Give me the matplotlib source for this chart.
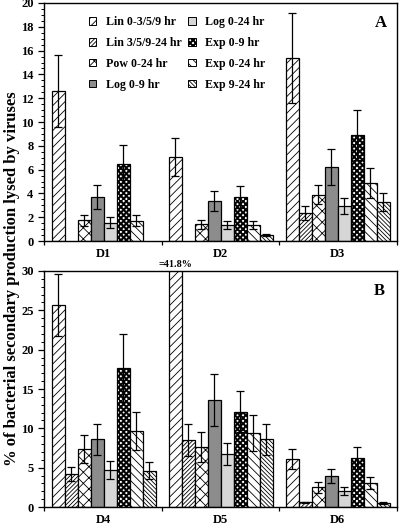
import numpy as np
import matplotlib
matplotlib.use("Agg")
import matplotlib.pyplot as plt
from matplotlib import hatch as mhatch
from matplotlib.path import Path
from matplotlib.patches import Patch

# ---------------- data ----------------
series = ["Lin 0-3/5/9 hr", "Lin 3/5/9-24 hr", "Pow 0-24 hr", "Log 0-9 hr",
          "Log 0-24 hr", "Exp 0-9 hr", "Exp 0-24 hr", "Exp 9-24 hr"]
groups_a = ["D1", "D2", "D3"]
groups_b = ["D4", "D5", "D6"]
nan = np.nan
# values[group][series]
vals_a = [
    [12.6, nan, 1.75, 3.7, 1.55, 6.45, 1.7, nan],
    [7.05, nan, 1.4, 3.35, 1.35, 3.7, 1.35, 0.5],
    [15.4, 2.35, 3.87, 6.2, 2.95, 8.9, 4.87, 3.28],
]
errs_a = [
    [3.0, nan, 0.45, 1.0, 0.45, 1.6, 0.45, nan],
    [1.6, nan, 0.35, 0.85, 0.35, 0.95, 0.35, 0.08],
    [3.8, 0.6, 0.8, 1.5, 0.65, 2.1, 1.25, 0.75],
]
vals_b = [
    [25.7, 4.2, 7.35, 8.6, 4.7, 17.7, 9.7, 4.6],
    [41.8, 8.5, 7.6, 13.6, 6.7, 12.1, 9.4, 8.6],
    [6.1, 0.6, 2.5, 3.9, 2.0, 6.2, 3.05, 0.5],
]
errs_b = [
    [3.9, 0.9, 1.75, 2.0, 1.1, 4.3, 2.4, 1.1],
    [nan, 2.0, 1.9, 3.3, 1.4, 2.6, 2.3, 2.0],
    [1.3, 0.1, 0.7, 0.9, 0.5, 1.4, 0.75, 0.1],
]
d5_note = "=41.8%"
ylabel = "% of bacterial secondary production lysed by viruses"

# ---------------- custom checkerboard hatch ----------------
class CheckerHatch(mhatch.HatchPatternBase):
    def __init__(self, hatch, density):
        n = int(hatch.count('c') * density * 2)
        if n % 2:
            n += 1
        self.n = n
        self.num_vertices = 5 * (n * n // 2) if n > 0 else 0

    def set_vertices_and_codes(self, vertices, codes):
        n = self.n
        k = 0
        s = 1.0 / n
        for i in range(n):
            for j in range(n):
                if (i + j) % 2 == 0:
                    x0, y0 = j * s, i * s
                    vertices[k:k + 5] = [(x0, y0), (x0 + s, y0), (x0 + s, y0 + s),
                                         (x0, y0 + s), (x0, y0)]
                    codes[k:k + 5] = [Path.MOVETO, Path.LINETO, Path.LINETO,
                                      Path.LINETO, Path.CLOSEPOLY]
                    k += 5

mhatch._hatch_types.append(CheckerHatch)
try:
    mhatch._validate_hatch_pattern = lambda h: None
except Exception:
    pass

styles = [
    dict(facecolor="white", hatch="////"),
    dict(facecolor="white", hatch="////////"),
    dict(facecolor="white", hatch="xxx"),
    dict(facecolor="#8c8c8c", hatch=None),
    dict(facecolor="#d6d6d6", hatch=None),
    dict(facecolor="white", hatch="ccc"),
    dict(facecolor="white", hatch="\\\\\\\\"),
    dict(facecolor="white", hatch="\\\\\\\\\\\\\\\\"),
]

plt.rcParams["font.family"] = ["Liberation Serif", "DejaVu Serif"]
plt.rcParams["font.weight"] = "bold"
plt.rcParams["hatch.linewidth"] = 0.6
plt.rcParams["axes.linewidth"] = 1.0

fig = plt.figure(figsize=(4.0, 5.26), dpi=100)
axA = fig.add_axes([0.11, 0.5418, 0.8825, 0.4525])
axB = fig.add_axes([0.11, 0.0361, 0.8825, 0.4487])

group_starts = [0, 9, 18]


def draw_panel(ax, vals, errs, gnames, ymax, major, minor):
    for gi, (gv, ge) in enumerate(zip(vals, errs)):
        for si in range(len(series)):
            v = gv[si]
            if np.isnan(v):
                continue
            x = group_starts[gi] + si + 0.5
            st = styles[si]
            ax.bar(x, v, width=1.0, facecolor=st["facecolor"], edgecolor="black",
                   linewidth=0.9, hatch=st["hatch"], zorder=2)
            e = ge[si]
            if not np.isnan(e):
                ax.errorbar(x, v, yerr=e, fmt="none", ecolor="black",
                            elinewidth=0.9, capsize=3, capthick=0.9, zorder=3)
    ax.set_xlim(-0.6, 26.55)
    ax.set_ylim(0, ymax)
    ax.set_yticks(np.arange(0, ymax + 0.01, major))
    ax.set_yticks(np.arange(0, ymax + 0.01, minor), minor=True)
    ax.set_yticklabels([f"{int(t)}" for t in np.arange(0, ymax + 0.01, major)],
                       fontsize=9, fontweight="bold")
    ax.tick_params(axis="y", which="major", direction="out", length=4, width=0.9)
    ax.tick_params(axis="y", which="minor", direction="out", length=2, width=0.7)
    ax.set_xticks([-0.6, 8.5, 17.5, 26.55])
    ax.set_xticklabels([])
    ax.set_xticks([g + 4 for g in group_starts], minor=True)
    ax.set_xticklabels(gnames, minor=True, fontsize=9, fontweight="bold")
    ax.tick_params(axis="x", which="major", direction="out", length=3, width=0.9)
    ax.tick_params(axis="x", which="minor", length=0, pad=5)


draw_panel(axA, vals_a, errs_a, groups_a, 20, 2, 0.5)
draw_panel(axB, vals_b, errs_b, groups_b, 30, 5, 1)

axA.text(0.955, 0.915, "A", transform=axA.transAxes, fontsize=12,
         fontweight="bold", ha="center", va="center")
axB.text(0.95, 0.915, "B", transform=axB.transAxes, fontsize=12,
         fontweight="bold", ha="center", va="center")
axB.text(group_starts[1] + 0.5, 30.2, d5_note, fontsize=7.3, fontweight="bold",
         ha="center", va="bottom", clip_on=False)

handles = [Patch(facecolor=st["facecolor"], edgecolor="black", linewidth=0.7,
                 hatch=st["hatch"]) for st in styles]
leg = axA.legend(handles, series,
                 ncol=2, loc="upper left", bbox_to_anchor=(0.127, 0.945),
                 frameon=False, handlelength=0.6, handleheight=0.6,
                 handletextpad=0.8, columnspacing=0.6, labelspacing=0.74,
                 borderpad=0, borderaxespad=0,
                 prop=dict(family=["Liberation Serif"], weight="bold", size=8.6))

fig.text(0.03, 0.47, ylabel, rotation=90, ha="center", va="center",
         fontsize=12, fontweight="bold")

fig.savefig("out.png", dpi=100)
